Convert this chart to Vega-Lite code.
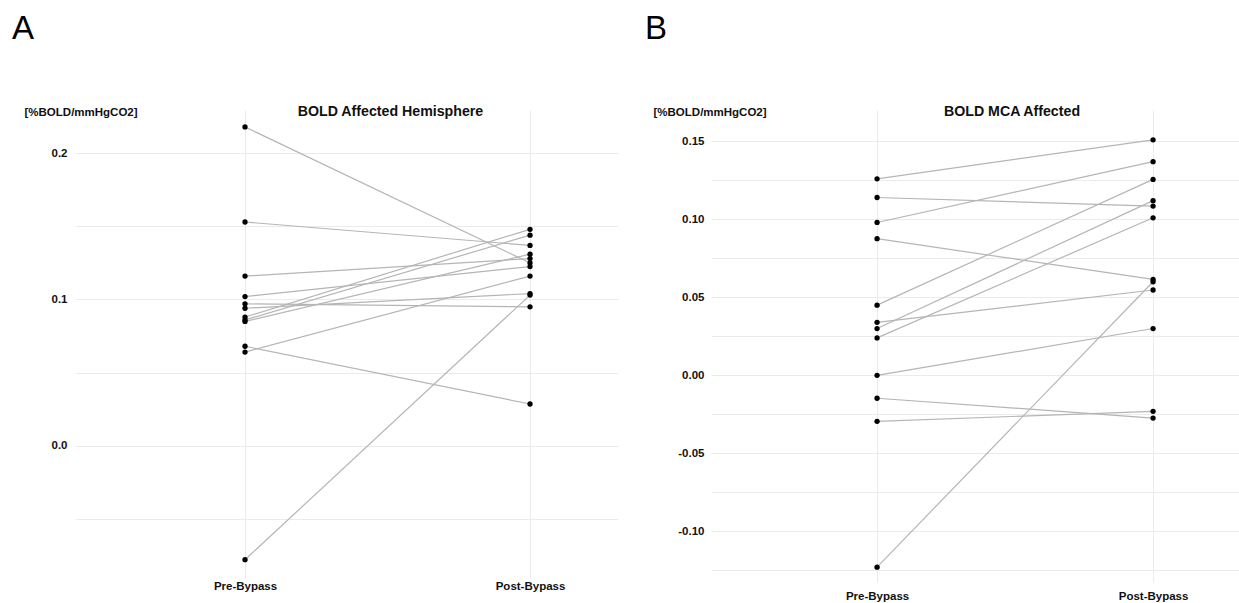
{
  "$schema": "https://vega.github.io/schema/vega-lite/v6.json",
  "padding": {"left": 12, "top": 12, "right": 0, "bottom": 0},
  "background": "white",
  "spacing": 27,
  "config": {
    "view": {"stroke": null},
    "font": "Liberation Sans",
    "axis": {
      "domain": false,
      "ticks": false,
      "gridColor": "#ebebeb",
      "gridWidth": 1,
      "labelFont": "Liberation Sans",
      "labelFontWeight": "bold",
      "labelFontSize": 11.5,
      "labelColor": "#111111",
      "titleFont": "Liberation Sans",
      "titleFontWeight": "bold",
      "titleFontSize": 11.5,
      "titleColor": "#111111"
    }
  },
  "hconcat": [
    {
      "title": {"text": "A", "anchor": "start", "frame": "group", "dx": -63, "fontSize": 33, "fontWeight": "normal", "font": "Liberation Sans", "color": "#000000", "offset": 59},
      "vconcat": [
        {
          "width": 543,
          "height": 468,
          "title": {"text": "BOLD Affected Hemisphere", "anchor": "middle", "frame": "group", "dx": 44, "fontSize": 14.2, "fontWeight": "bold", "font": "Liberation Sans", "color": "#111111", "offset": -13},
          "data": {"values": [
            {"subject": 1, "phase": "Pre-Bypass", "value": 0.218}, {"subject": 1, "phase": "Post-Bypass", "value": 0.125},
            {"subject": 2, "phase": "Pre-Bypass", "value": 0.153}, {"subject": 2, "phase": "Post-Bypass", "value": 0.137},
            {"subject": 3, "phase": "Pre-Bypass", "value": 0.116}, {"subject": 3, "phase": "Post-Bypass", "value": 0.128},
            {"subject": 4, "phase": "Pre-Bypass", "value": 0.102}, {"subject": 4, "phase": "Post-Bypass", "value": 0.1225},
            {"subject": 5, "phase": "Pre-Bypass", "value": 0.097}, {"subject": 5, "phase": "Post-Bypass", "value": 0.095},
            {"subject": 6, "phase": "Pre-Bypass", "value": 0.094}, {"subject": 6, "phase": "Post-Bypass", "value": 0.104},
            {"subject": 7, "phase": "Pre-Bypass", "value": 0.088}, {"subject": 7, "phase": "Post-Bypass", "value": 0.148},
            {"subject": 8, "phase": "Pre-Bypass", "value": 0.086}, {"subject": 8, "phase": "Post-Bypass", "value": 0.144},
            {"subject": 9, "phase": "Pre-Bypass", "value": 0.085}, {"subject": 9, "phase": "Post-Bypass", "value": 0.131},
            {"subject": 10, "phase": "Pre-Bypass", "value": 0.068}, {"subject": 10, "phase": "Post-Bypass", "value": 0.0285},
            {"subject": 11, "phase": "Pre-Bypass", "value": 0.064}, {"subject": 11, "phase": "Post-Bypass", "value": 0.116},
            {"subject": 12, "phase": "Pre-Bypass", "value": -0.078}, {"subject": 12, "phase": "Post-Bypass", "value": 0.103}
          ]},
          "encoding": {
            "x": {
              "field": "phase", "type": "nominal",
              "scale": {"type": "point", "domain": ["Pre-Bypass", "Post-Bypass"], "padding": 0.4526, "align": 0.659},
              "axis": {"title": null, "labelAngle": 0, "labelPadding": 2, "grid": true}
            },
            "y": {
              "field": "value", "type": "quantitative",
              "scale": {"domain": [-0.0905, 0.2296], "nice": false, "zero": false},
              "axis": {
                "title": "[%BOLD/mmHgCO2]",
                "titleAngle": 0, "titleAlign": "left", "titleBaseline": "middle",
                "titleX": -51, "titleY": 2,
                "values": [-0.05, 0, 0.05, 0.1, 0.15, 0.2],
                "labelExpr": "abs(round(datum.value*20)) % 2 == 0 ? replace(format(datum.value, '.1f'), '\u2212', '-') : ''",
                "labelPadding": 8
              }
            }
          },
          "layer": [
            {"mark": {"type": "line", "color": "#b5b5b5", "strokeWidth": 1.2}, "encoding": {"detail": {"field": "subject", "type": "nominal"}}},
            {"mark": {"type": "point", "filled": true, "color": "#000000", "size": 28, "opacity": 1}}
          ]
        }
      ]
    },
    {
      "title": {"text": "B", "anchor": "start", "frame": "group", "dx": -66, "fontSize": 33, "fontWeight": "normal", "font": "Liberation Sans", "color": "#000000", "offset": 59},
      "vconcat": [
        {
          "width": 528,
          "height": 472,
          "title": {"text": "BOLD MCA Affected", "anchor": "middle", "frame": "group", "dx": 37, "fontSize": 14.2, "fontWeight": "bold", "font": "Liberation Sans", "color": "#111111", "offset": -13},
          "data": {"values": [
            {"subject": 1, "phase": "Pre-Bypass", "value": 0.126}, {"subject": 1, "phase": "Post-Bypass", "value": 0.151},
            {"subject": 2, "phase": "Pre-Bypass", "value": 0.114}, {"subject": 2, "phase": "Post-Bypass", "value": 0.1085},
            {"subject": 3, "phase": "Pre-Bypass", "value": 0.098}, {"subject": 3, "phase": "Post-Bypass", "value": 0.137},
            {"subject": 4, "phase": "Pre-Bypass", "value": 0.0876}, {"subject": 4, "phase": "Post-Bypass", "value": 0.0615},
            {"subject": 5, "phase": "Pre-Bypass", "value": 0.045}, {"subject": 5, "phase": "Post-Bypass", "value": 0.1256},
            {"subject": 6, "phase": "Pre-Bypass", "value": 0.034}, {"subject": 6, "phase": "Post-Bypass", "value": 0.0547},
            {"subject": 7, "phase": "Pre-Bypass", "value": 0.030}, {"subject": 7, "phase": "Post-Bypass", "value": 0.112},
            {"subject": 8, "phase": "Pre-Bypass", "value": 0.024}, {"subject": 8, "phase": "Post-Bypass", "value": 0.101},
            {"subject": 9, "phase": "Pre-Bypass", "value": 0.000}, {"subject": 9, "phase": "Post-Bypass", "value": 0.030},
            {"subject": 10, "phase": "Pre-Bypass", "value": -0.0147}, {"subject": 10, "phase": "Post-Bypass", "value": -0.0274},
            {"subject": 11, "phase": "Pre-Bypass", "value": -0.0295}, {"subject": 11, "phase": "Post-Bypass", "value": -0.0231},
            {"subject": 12, "phase": "Pre-Bypass", "value": -0.123}, {"subject": 12, "phase": "Post-Bypass", "value": 0.060}
          ]},
          "encoding": {
            "x": {
              "field": "phase", "type": "nominal",
              "scale": {"type": "point", "domain": ["Pre-Bypass", "Post-Bypass"], "padding": 0.4565, "align": 0.659},
              "axis": {"title": null, "labelAngle": 0, "labelPadding": 8, "grid": true}
            },
            "y": {
              "field": "value", "type": "quantitative",
              "scale": {"domain": [-0.1325, 0.1701], "nice": false, "zero": false},
              "axis": {
                "title": "[%BOLD/mmHgCO2]",
                "titleAngle": 0, "titleAlign": "left", "titleBaseline": "middle",
                "titleX": -58, "titleY": 2,
                "values": [-0.125, -0.1, -0.075, -0.05, -0.025, 0, 0.025, 0.05, 0.075, 0.1, 0.125, 0.15],
                "labelExpr": "abs(round(datum.value*40)) % 2 == 0 ? replace(format(datum.value, '.2f'), '\u2212', '-') : ''",
                "labelPadding": 7
              }
            }
          },
          "layer": [
            {"mark": {"type": "line", "color": "#b5b5b5", "strokeWidth": 1.2}, "encoding": {"detail": {"field": "subject", "type": "nominal"}}},
            {"mark": {"type": "point", "filled": true, "color": "#000000", "size": 28, "opacity": 1}}
          ]
        }
      ]
    }
  ]
}
